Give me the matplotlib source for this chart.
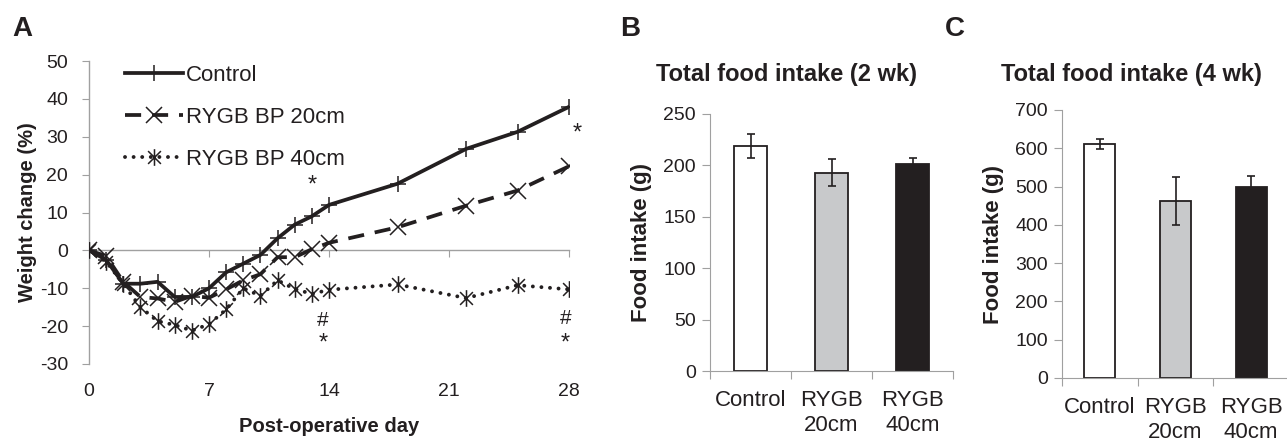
import matplotlib
matplotlib.use('Agg')
import matplotlib.pyplot as plt
from matplotlib.path import Path

plt.rcParams['font.family'] = ['Liberation Sans', 'DejaVu Sans']
plt.rcParams['axes.unicode_minus'] = False

TXT = '#231f20'
AXC = '#a0a0a0'

# Panel A: weight change (%) by post-operative day
days = [0, 1, 2, 3, 4, 5, 6, 7, 8, 9, 10, 11, 12, 13, 14, 18, 22, 25, 28]
control = [0, -2.5, -8.8, -8.8, -8.3, -12.3, -12.3, -10.0, -5.8, -3.5, -1.2,
           3.2, 6.8, 9.0, 12.0, 17.6, 26.8, 31.3, 37.9]
rygb20 = [0, -1.5, -8.3, -12.3, -12.7, -13.6, -12.0, -12.5, -10.3, -7.9, -6.3,
          -1.8, -1.8, 0.3, 2.0, 6.1, 11.8, 15.8, 22.2]
rygb40 = [0, -3.0, -8.8, -15.0, -18.7, -19.7, -21.2, -19.5, -15.6, -10.0, -12.0,
          -7.9, -10.2, -11.5, -10.4, -9.0, -12.6, -9.2, -10.3]
series_labels = ['Control', 'RYGB BP 20cm', 'RYGB BP 40cm']
day_ticks = [0, 7, 14, 21, 28]
wc_ticks = [-30, -20, -10, 0, 10, 20, 30, 40, 50]

# Panels B and C: total food intake
groups = ['Control', 'RYGB\n20cm', 'RYGB\n40cm']
intake_2wk = [219, 193, 201]
intake_2wk_err = [11.5, 13, 6]
intake_4wk = [612, 462, 500]
intake_4wk_err = [13, 63, 28]
bar_colors = ['white', '#c8c9cb', '#231f20']

# asterisk marker like Excel's
star = Path([(-1, -1), (1, 1), (-1, 1), (1, -1), (0, -1.3), (0, 1.3)],
            [Path.MOVETO, Path.LINETO] * 3)

fig = plt.figure(figsize=(12.87, 4.42), dpi=100)
W, H = 1287, 442

# ---------------- Panel A ----------------
axA = fig.add_axes([89 / W, 78 / H, 480 / W, 303 / H])
axA.plot(days, control, color='#231f20', lw=2.7, marker='+', ms=11, mew=1.1,
         label=series_labels[0], zorder=4)
axA.plot(days, rygb20, color='#231f20', lw=2.7, ls=(0, (4.3, 2.9)), marker='x',
         ms=11.5, mew=1.1, mfc='none', label=series_labels[1], zorder=4)
axA.plot(days, rygb40, color='#231f20', lw=2.8, ls=(0, (0.01, 2.2)),
         dash_capstyle='round', marker=star, ms=12, mew=1.1,
         label=series_labels[2], zorder=4)

axA.set_xlim(0, 28)
axA.set_ylim(-30, 50)
axA.set_yticks(wc_ticks)
axA.set_xticks(day_ticks)
for s in ['top', 'right']:
    axA.spines[s].set_visible(False)
axA.spines['bottom'].set_position(('data', 0))
for s in ['bottom', 'left']:
    axA.spines[s].set_color(AXC)
    axA.spines[s].set_linewidth(1)
axA.tick_params(axis='x', labelbottom=False, direction='out', length=5, color=AXC)
axA.tick_params(axis='y', direction='out', length=5, color=AXC, labelsize=14,
                labelcolor=TXT, pad=10)
axA.set_ylabel('Weight change (%)', fontsize=14.5, fontweight='bold', color=TXT,
               labelpad=2)

sec = axA.secondary_xaxis(0)
sec.set_xticks(day_ticks)
sec.tick_params(length=0, pad=14, labelsize=14, labelcolor=TXT)
sec.spines['bottom'].set_visible(False)
sec.set_xlabel('Post-operative day', fontsize=14.5, fontweight='bold', color=TXT,
               labelpad=12)

leg = axA.legend(loc='upper left', bbox_to_anchor=(0.075, 0.987), frameon=False,
                 fontsize=16, handlelength=2.6, handletextpad=0.15,
                 labelspacing=0.95, borderpad=0, borderaxespad=0)
for t in leg.get_texts():
    t.set_color(TXT)

# significance marks
axA.text(13.05, 17.2, '*', ha='center', va='center', fontsize=17, color=TXT)
axA.text(13.65, -18.5, '#', ha='center', va='center', fontsize=15, color=TXT)
axA.text(13.65, -24.5, '*', ha='center', va='center', fontsize=17, color=TXT)
axA.text(28.5, 30.9, '*', ha='center', va='center', fontsize=17, color=TXT,
         clip_on=False)
axA.text(27.8, -18.0, '#', ha='center', va='center', fontsize=15, color=TXT)
axA.text(27.8, -24.5, '*', ha='center', va='center', fontsize=17, color=TXT)


def bar_panel(rect, values, errs, ymax, step, title, title_x):
    ax = fig.add_axes(rect)
    x = range(len(groups))
    ax.bar(x, values, width=0.41, color=bar_colors, edgecolor='#231f20',
           linewidth=1.3, zorder=2)
    ax.errorbar(x, values, yerr=errs, fmt='none', ecolor='#231f20',
                elinewidth=1.2, capsize=3, capthick=1.2, zorder=3)
    ax.set_xlim(-0.5, len(groups) - 0.5)
    ax.set_ylim(0, ymax)
    ax.set_yticks(range(0, ymax + 1, step))
    ax.set_xticks([-0.5, 0.5, 1.5, 2.5])
    ax.set_xticklabels([])
    ax.set_xticks(list(x), minor=True)
    ax.set_xticklabels(groups, minor=True)
    ax.tick_params(axis='x', which='major', direction='out', length=6, color=AXC)
    ax.tick_params(axis='x', which='minor', length=0, pad=14, labelsize=16,
                   labelcolor=TXT)
    ax.tick_params(axis='y', direction='out', length=6, color=AXC, labelsize=14,
                   labelcolor=TXT, pad=4)
    for s in ['top', 'right']:
        ax.spines[s].set_visible(False)
    for s in ['bottom', 'left']:
        ax.spines[s].set_color(AXC)
    ax.set_ylabel('Food intake (g)', fontsize=16, fontweight='bold', color=TXT,
                  labelpad=8)
    fig.text(title_x / W, 1 - 74 / H, title, ha='center', va='center',
             fontsize=17, fontweight='bold', color=TXT)
    return ax


bar_panel([710 / W, 71 / H, 243 / W, 257 / H], intake_2wk, intake_2wk_err,
          250, 50, 'Total food intake (2 wk)', 787)
bar_panel([1062 / W, 64 / H, 227 / W, 268 / H], intake_4wk, intake_4wk_err,
          700, 100, 'Total food intake (4 wk)', 1131)

# panel letters
for letter, xp in [('A', 22), ('B', 630), ('C', 955)]:
    fig.text(xp / W, 1 - 29 / H, letter, ha='center', va='center', fontsize=20,
             fontweight='bold', color=TXT)

fig.savefig('out.png', dpi=100)
